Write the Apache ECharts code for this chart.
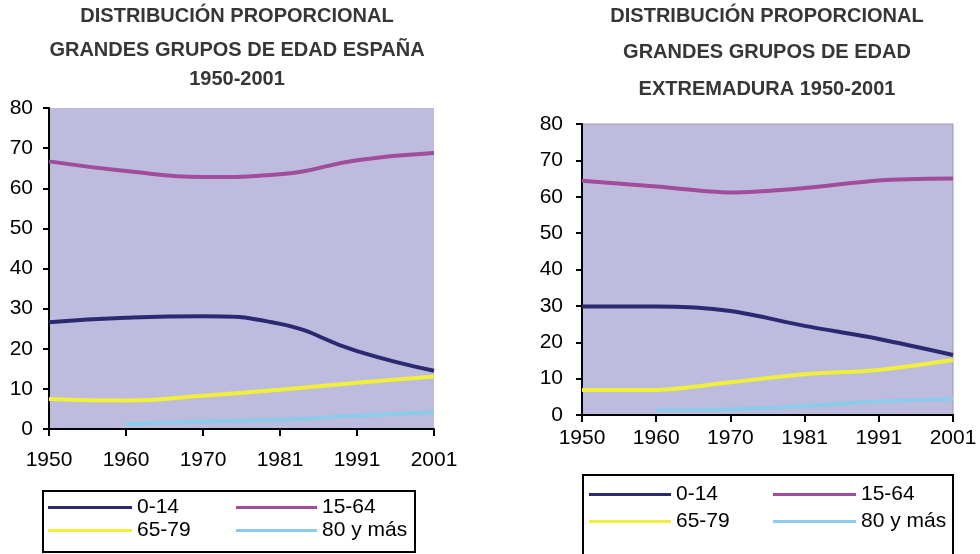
<!DOCTYPE html>
<html>

<head>
    <title>Distribución proporcional grandes grupos de edad</title>
    <meta charset="utf-8">
    <script src="https://cdn.jsdelivr.net/npm/echarts@6/dist/echarts.min.js"></script>
    <style>
        body { margin: 0; background: #fff; }
    </style>
</head>

<body>
    <!-- one DOM container for both panels -->
    <div id="main" style="width: 980px;height:554px;"></div>

    <script type="text/javascript">
        // years on the x axis (same for both panels)
        var years = ['1950', '1960', '1970', '1981', '1991', '2001'];
        var groupNames = ['0-14', '15-64', '65-79', '80 y más'];

        // España, % of population per age group
        var espana014 = [26.6, 27.7, 28.1, 26.2, 19.4, 14.5];
        var espana1564 = [66.7, 64.3, 62.8, 63.5, 67.0, 68.8];
        var espana6579 = [7.5, 7.1, 8.3, 9.8, 11.5, 13.1];
        var espana80 = [null, 1.2, 1.9, 2.3, 3.3, 4.2];

        // Extremadura, % of population per age group
        var extre014 = [29.8, 29.8, 28.6, 24.5, 20.9, 16.5];
        var extre1564 = [64.4, 62.8, 61.2, 62.4, 64.5, 65.0];
        var extre6579 = [6.9, 6.9, 9.0, 11.2, 12.4, 15.1];
        var extre80 = [null, 1.4, 1.6, 2.5, 3.7, 4.4];

        var colors = ['#2B2970', '#A24C9C', '#F0F03A', '#8CCBEA'];
        var font = 'Liberation Sans, Arial, sans-serif';

        var myChart = echarts.init(document.getElementById('main'));

        // helper for the axis pair of one panel
        function xAxisFor(idx, margin) {
            return {
                type: 'category',
                gridIndex: idx,
                data: years,
                boundaryGap: false,
                axisLine: { lineStyle: { color: '#000', width: 2 } },
                axisTick: { length: 7, lineStyle: { color: '#000', width: 2 } },
                axisLabel: { color: '#000', fontSize: 21, fontFamily: font, margin: margin }
            };
        }

        function yAxisFor(idx, margin) {
            return {
                type: 'value',
                gridIndex: idx,
                min: 0,
                max: 80,
                interval: 10,
                splitLine: { show: false },
                axisLine: { show: true, lineStyle: { color: '#000', width: 2 } },
                axisTick: { show: true, length: 6, lineStyle: { color: '#000', width: 2 } },
                axisLabel: { color: '#000', fontSize: 21, fontFamily: font, margin: margin }
            };
        }

        function lineSeries(name, data, color, idx, smooth) {
            return {
                name: name,
                type: 'line',
                xAxisIndex: idx,
                yAxisIndex: idx,
                data: data,
                smooth: smooth,
                symbol: 'none',
                lineStyle: { color: color, width: 4 },
                itemStyle: { color: color },
                z: 3
            };
        }

        // one title component per line so the spacing can follow the picture
        function titleLine(text, x, y) {
            return {
                text: text,
                left: x,
                top: y,
                padding: 0,
                textAlign: 'center',
                textStyle: { fontSize: 20, fontWeight: 'bold', color: '#363636', fontFamily: font }
            };
        }

        // one legend per entry, placed in a 2x2 layout
        function legendItem(name, x, y, lineW) {
            return {
                data: [name],
                left: x,
                top: y,
                padding: 0,
                icon: 'rect',
                itemWidth: lineW,
                itemHeight: 3,
                textStyle: { color: '#000', fontSize: 21, fontFamily: font }
            };
        }

        var option = {
            animation: false,
            title: [
                titleLine('DISTRIBUCIÓN PROPORCIONAL', 237, 6),
                titleLine('GRANDES GRUPOS DE EDAD ESPAÑA', 237, 40),
                titleLine('1950-2001', 237, 69),
                titleLine('DISTRIBUCIÓN PROPORCIONAL', 767, 6),
                titleLine('GRANDES GRUPOS DE EDAD', 767, 42),
                titleLine('EXTREMADURA 1950-2001', 767, 79)
            ],
            legend: [
                legendItem(groupNames[0], 48, 497, 84),
                legendItem(groupNames[1], 236, 497, 81),
                legendItem(groupNames[2], 48, 520, 84),
                legendItem(groupNames[3], 236, 520, 81),
                legendItem(groupNames[0], 589, 484, 82),
                legendItem(groupNames[1], 773, 484, 83),
                legendItem(groupNames[2], 589, 511, 82),
                legendItem(groupNames[3], 773, 511, 83)
            ],
            grid: [{
                left: 49,
                top: 108,
                right: 546,
                bottom: 125,
                show: true,
                backgroundColor: '#BEBCDE',
                borderWidth: 0
            }, {
                left: 582,
                top: 124,
                right: 27,
                bottom: 139,
                show: true,
                backgroundColor: '#BEBCDE',
                borderColor: '#9A98AE',
                borderWidth: 1
            }],
            xAxis: [xAxisFor(0, 21), xAxisFor(1, 13)],
            yAxis: [yAxisFor(0, 16), yAxisFor(1, 19)],
            series: [
                lineSeries(groupNames[0], espana014, colors[0], 0, true),
                lineSeries(groupNames[1], espana1564, colors[1], 0, true),
                lineSeries(groupNames[2], espana6579, colors[2], 0, true),
                lineSeries(groupNames[3], espana80, colors[3], 0, true),
                lineSeries(groupNames[0], extre014, colors[0], 1, 0.3),
                lineSeries(groupNames[1], extre1564, colors[1], 1, 0.3),
                lineSeries(groupNames[2], extre6579, colors[2], 1, 0.3),
                lineSeries(groupNames[3], extre80, colors[3], 1, 0.3)
            ],
            // legend frames
            graphic: [{
                type: 'rect',
                shape: { x: 43, y: 491, width: 372, height: 61 },
                style: { fill: 'none', stroke: '#000', lineWidth: 2 }
            }, {
                type: 'rect',
                shape: { x: 583, y: 475, width: 370, height: 90 },
                style: { fill: 'none', stroke: '#000', lineWidth: 2 }
            }]
        };

        myChart.setOption(option);
    </script>
</body>

</html>
